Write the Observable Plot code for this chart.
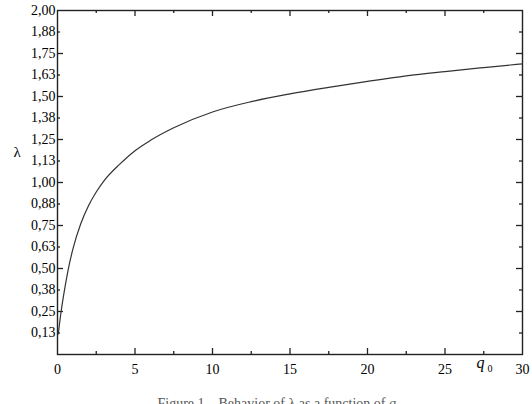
<!DOCTYPE html>
<html>
<head>
<meta charset="utf-8">
<script src="https://cdn.jsdelivr.net/npm/d3@7"></script>
<script src="https://cdn.jsdelivr.net/npm/@observablehq/plot@0.6"></script>
<style>
  html, body { margin: 0; padding: 0; background: #fff; width: 532px; height: 404px; overflow: hidden; }
  #chart { position: relative; width: 532px; height: 404px; }
  #chart svg { font-family: 'Liberation Serif', serif !important; }
  #caption { position: absolute; left: 0; width: 558px; top: 396px; text-align: center;
    font-family: 'Liberation Serif', serif; font-size: 14px; color: #555; line-height: 16px; white-space: nowrap; }
</style>
</head>
<body>
<div id="chart"></div>
<script>
// Curve
const q0Values = [0.05, 0.25, 0.5, 0.75, 1, 1.5, 2, 2.5, 3, 4, 5, 6, 7.5, 10, 12.5, 15, 17.5, 20, 22.5, 25, 27.5, 30];
const lambdaValues = [0.12, 0.26, 0.40, 0.52, 0.615, 0.76, 0.865, 0.945, 1.01, 1.105, 1.185, 1.245, 1.318, 1.41, 1.47, 1.515, 1.553, 1.588, 1.62, 1.645, 1.668, 1.69];

// Ticks
const xLabelTicks = [0, 5, 10, 15, 20, 25, 30];
const xMinorTicks = [2.5, 7.5, 12.5, 17.5, 22.5, 27.5];
const yLabelTicks = [0.125, 0.25, 0.375, 0.5, 0.625, 0.75, 0.875, 1, 1.125, 1.25, 1.375, 1.5, 1.625, 1.75, 1.875, 2];
const yMajorTicks = [0.25, 0.5, 0.75, 1, 1.25, 1.5, 1.75];
const yMinorTicks = [0.125, 0.375, 0.625, 0.875, 1.125, 1.375, 1.625, 1.875];

const data = q0Values.map((q, i) => ({q, l: lambdaValues[i]}));

const W = 532, H = 386;
const mL = 57, mR = 10, mT = 10, mB = 32;
const fw = W - mL - mR, fh = H - mT - mB;
const fmt = d => d.toFixed(2).replace(".", ",");
const serif = "'Liberation Serif', serif";

const plot = Plot.plot({
  width: W, height: H,
  marginLeft: mL, marginRight: mR, marginTop: mT, marginBottom: mB,
  style: {fontFamily: serif, fontSize: "14px", color: "#000", background: "#fff"},
  x: {domain: [0, 30]},
  y: {domain: [0, 2]},
  marks: [
    Plot.frame({stroke: "#222", strokeWidth: 1.4}),
    // left & right ticks (inward)
    Plot.tickY(yMajorTicks, {y: d => d, insetRight: fw - 6, stroke: "#222", strokeWidth: 1.3}),
    Plot.tickY(yMinorTicks, {y: d => d, insetRight: fw - 3, stroke: "#222", strokeWidth: 1.3}),
    Plot.tickY(yMajorTicks, {y: d => d, insetLeft: fw - 6, stroke: "#222", strokeWidth: 1.3}),
    Plot.tickY(yMinorTicks, {y: d => d, insetLeft: fw - 3, stroke: "#222", strokeWidth: 1.3}),
    // bottom & top ticks (inward)
    Plot.tickX(xLabelTicks.slice(1, -1), {x: d => d, insetTop: fh - 6, stroke: "#222", strokeWidth: 1.3}),
    Plot.tickX(xMinorTicks, {x: d => d, insetTop: fh - 3, stroke: "#222", strokeWidth: 1.3}),
    Plot.tickX(xLabelTicks.slice(1, -1), {x: d => d, insetBottom: fh - 6, stroke: "#222", strokeWidth: 1.3}),
    Plot.tickX(xMinorTicks, {x: d => d, insetBottom: fh - 3, stroke: "#222", strokeWidth: 1.3}),
    Plot.axisY({ticks: yLabelTicks, tickSize: 0, tickPadding: 2, tickFormat: fmt, label: null, fontFamily: serif}),
    Plot.axisX({ticks: xLabelTicks, tickSize: 0, tickPadding: 10, tickFormat: d => String(d), label: null, fontFamily: serif}),
    Plot.line(data, {x: "q", y: "l", curve: "monotone-x", stroke: "#333", strokeWidth: 1.2}),
    Plot.text(["λ"], {frameAnchor: "top-left", dx: -44, dy: 136, fontSize: 15, fontFamily: serif}),
    Plot.text(["q"], {frameAnchor: "bottom-right", dx: -38, dy: 13, fontSize: 16, fontStyle: "italic", fontFamily: serif}),
    Plot.text(["0"], {frameAnchor: "bottom-right", dx: -30, dy: 17, fontSize: 10, fontFamily: serif})
  ]
});
document.getElementById("chart").appendChild(plot);

const cap = document.createElement("div");
cap.id = "caption";
cap.innerHTML = "Figure 1.&nbsp;&nbsp; Behavior of λ as a function of <i>q</i><sub style='font-size:9px'>0</sub>";
document.getElementById("chart").appendChild(cap);
</script>
</body>
</html>
